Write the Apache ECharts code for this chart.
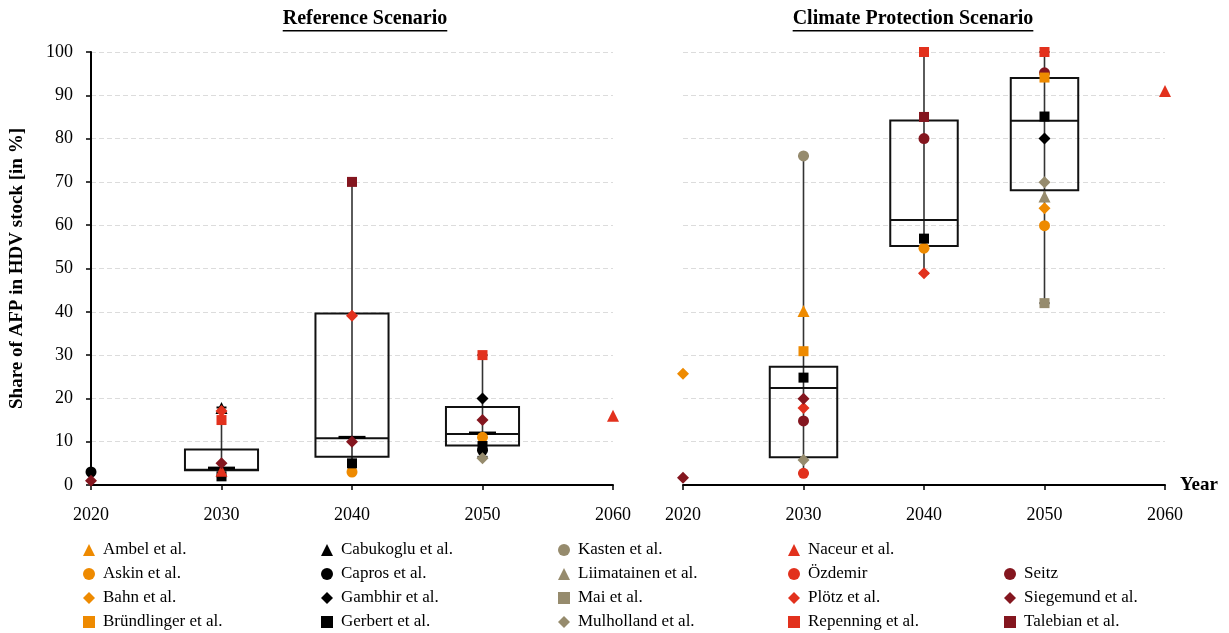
<!DOCTYPE html>
<html>
<head>
<meta charset="utf-8">
<script src="https://cdn.jsdelivr.net/npm/echarts@6/dist/echarts.min.js"></script>
<style>
html,body{margin:0;padding:0;background:#fff;}
#chart{width:1229px;height:633px;}
</style>
</head>
<body>
<div id="chart"></div>
<script>
// ---------- DATA ----------
const xTicks = [2020, 2030, 2040, 2050, 2060];
const studyNames = ['Ambel et al.','Askin et al.','Bahn et al.','Bründlinger et al.',
  'Cabukoglu et al.','Capros et al.','Gambhir et al.','Gerbert et al.',
  'Kasten et al.','Liimatainen et al.','Mai et al.','Mulholland et al.',
  'Naceur et al.','Özdemir','Plötz et al.','Repenning et al.',
  'Seitz','Siegemund et al.','Talebian et al.'];

// [study, year, share %] – Reference Scenario
const refObs = [
  ['Capros et al.',2020,3.0],['Siegemund et al.',2020,1.0],
  ['Cabukoglu et al.',2030,17.8],['Plötz et al.',2030,17.1],['Repenning et al.',2030,15.0],
  ['Siegemund et al.',2030,5.0],['Naceur et al.',2030,3.3],['Gerbert et al.',2030,2.0],
  ['Talebian et al.',2040,70.0],['Plötz et al.',2040,39.1],['Siegemund et al.',2040,10.0],
  ['Gerbert et al.',2040,5.0],['Askin et al.',2040,3.0],
  ['Repenning et al.',2050,30.0],['Gambhir et al.',2050,20.0],['Siegemund et al.',2050,15.0],
  ['Askin et al.',2050,11.0],['Gerbert et al.',2050,9.0],['Capros et al.',2050,8.0],
  ['Mulholland et al.',2050,6.2],
  ['Naceur et al.',2060,16.0]
];
// [study, year, share %] – Climate Protection Scenario
const cpObs = [
  ['Bahn et al.',2020,25.7],['Siegemund et al.',2020,1.7],
  ['Kasten et al.',2030,76.0],['Ambel et al.',2030,40.2],['Bründlinger et al.',2030,30.9],
  ['Gerbert et al.',2030,24.8],['Siegemund et al.',2030,19.9],['Plötz et al.',2030,17.8],
  ['Seitz',2030,14.8],['Mulholland et al.',2030,5.8],['Özdemir',2030,2.7],
  ['Repenning et al.',2040,100],['Talebian et al.',2040,85.0],['Seitz',2040,80.0],
  ['Gerbert et al.',2040,56.9],['Askin et al.',2040,54.7],['Plötz et al.',2040,48.9],
  ['Repenning et al.',2050,100],['Seitz',2050,95.2],['Bründlinger et al.',2050,94.1],
  ['Gerbert et al.',2050,85.1],['Gambhir et al.',2050,80.0],['Mulholland et al.',2050,69.9],
  ['Liimatainen et al.',2050,66.6],['Bahn et al.',2050,63.9],['Askin et al.',2050,59.9],
  ['Mai et al.',2050,42.0],
  ['Naceur et al.',2060,91.0]
];

// box statistics
const refBoxYears = [2030, 2040, 2050];
const refBoxMin = [2.0, 3.0, 6.5];
const refBoxQ1  = [3.4, 6.5, 9.1];
const refBoxMed = [3.5, 10.8, 11.8];
const refBoxQ3  = [8.2, 39.6, 18.0];
const refBoxMax = [17.9, 70.0, 30.0];
const refBoxBar = [3.9, 11.0, 12.0];

const cpBoxYears = [2030, 2040, 2050];
const cpBoxMin = [2.7, 48.9, 42.0];
const cpBoxQ1  = [6.4, 55.2, 68.1];
const cpBoxMed = [22.4, 61.2, 84.1];
const cpBoxQ3  = [27.3, 84.2, 94.0];
const cpBoxMax = [76.0, 100, 100];

const yTicks = [0,10,20,30,40,50,60,70,80,90,100];

// ---------- STYLE ----------
const ORANGE = '#EE8A00', BLACK = '#000000', GRAY = '#968B6D', RED = '#E2311D', DARK = '#84161F';
const studyColors = [ORANGE,ORANGE,ORANGE,ORANGE, BLACK,BLACK,BLACK,BLACK,
  GRAY,GRAY,GRAY,GRAY, RED,RED,RED,RED, DARK,DARK,DARK];
const studySymbols = ['triangle','circle','diamond','rect',
  'triangle','circle','diamond','rect',
  'circle','triangle','rect','diamond',
  'triangle','circle','diamond','rect',
  'circle','diamond','rect'];
const symSize = {triangle: 12, circle: 11, diamond: 12, rect: 10};
const FONT = 'Liberation Serif';

const chart = echarts.init(document.getElementById('chart'));

function boxItems(years, mn, q1, md, q3, mx, bar){
  return years.map((y,i)=>[y, mn[i], q1[i], md[i], q3[i], mx[i], bar ? bar[i] : NaN]);
}

function renderBox(params, api){
  const x = api.value(0);
  const pMin = api.coord([x, api.value(1)]);
  const pQ1 = api.coord([x, api.value(2)]);
  const pMed = api.coord([x, api.value(3)]);
  const pQ3 = api.coord([x, api.value(4)]);
  const pMax = api.coord([x, api.value(5)]);
  const w = api.size([5.6, 0])[0];
  const barW = api.size([2.07, 0])[0];
  const cx = pMed[0];
  const children = [
    {type:'line', shape:{x1:cx,y1:pMax[1],x2:cx,y2:pMin[1]}, style:{stroke:'#333',lineWidth:1.6}},
    {type:'line', shape:{x1:cx-5,y1:pMax[1],x2:cx+5,y2:pMax[1]}, style:{stroke:'#000',lineWidth:2}},
    {type:'line', shape:{x1:cx-5,y1:pMin[1],x2:cx+5,y2:pMin[1]}, style:{stroke:'#000',lineWidth:2}},
    {type:'rect', shape:{x:cx-w/2,y:pQ3[1],width:w,height:pQ1[1]-pQ3[1]}, style:{fill:'none',stroke:'#111',lineWidth:2}},
    {type:'line', shape:{x1:cx-w/2,y1:pMed[1],x2:cx+w/2,y2:pMed[1]}, style:{stroke:'#111',lineWidth:2}}
  ];
  const b = api.value(6);
  if (!isNaN(b)) {
    const pB = api.coord([x, b]);
    children.push({type:'line', shape:{x1:cx-barW/2,y1:pB[1],x2:cx+barW/2,y2:pB[1]}, style:{stroke:'#000',lineWidth:3}});
  }
  return {type:'group', children};
}

const series = [
  {type:'custom', xAxisIndex:0, yAxisIndex:0, z:1, silent:true, renderItem:renderBox,
   encode:{x:0, y:[1,2,3,4,5]},
   data: boxItems(refBoxYears, refBoxMin, refBoxQ1, refBoxMed, refBoxQ3, refBoxMax, refBoxBar)},
  {type:'custom', xAxisIndex:1, yAxisIndex:1, z:1, silent:true, renderItem:renderBox,
   encode:{x:0, y:[1,2,3,4,5]},
   data: boxItems(cpBoxYears, cpBoxMin, cpBoxQ1, cpBoxMed, cpBoxQ3, cpBoxMax, null)}
];
studyNames.forEach((name, i) => {
  const sym = studySymbols[i];
  [[refObs,0],[cpObs,1]].forEach(([obs, ax]) => {
    series.push({
      type:'scatter', name, xAxisIndex:ax, yAxisIndex:ax, z: name === 'Seitz' ? 3 : 5,
      symbol: sym, symbolSize: symSize[sym],
      itemStyle:{color: studyColors[i], opacity:1},
      emphasis:{disabled:true},
      data: obs.filter(o=>o[0]===name).map(o=>[o[1], o[2]])
    });
  });
});

const legendCols = [[0,4,78,533],[4,8,316,533],[8,12,553,533],[12,16,783,533],[16,19,999,557]];
const legends = legendCols.map(([a,b,l,t]) => ({
  orient:'vertical', left:l, top:t, height:110, itemGap:0, itemWidth:12, itemHeight:12,
  selectedMode:false,
  data: studyNames.slice(a,b),
  textStyle:{fontFamily:FONT, fontSize:17, color:'#000', lineHeight:24, padding:[0,0,0,3]}
}));

const xAxisCommon = {
  type:'value', min:2020, max:2060, interval:10,
  axisLine:{show:true, onZero:false, lineStyle:{color:'#000', width:2}},
  axisTick:{show:true, length:5, lineStyle:{color:'#000', width:1.5}},
  axisLabel:{fontFamily:FONT, fontSize:18, color:'#000', margin:21, formatter: v => String(v)},
  splitLine:{show:false}
};
const yAxisCommon = {
  type:'value', min:0, max:100, interval:10,
  splitLine:{show:true, lineStyle:{color:'#dcdcdc', type:[5,3], width:1}}
};

chart.setOption({
  animation:false,
  backgroundColor:'#fff',
  grid:[
    {left:91, top:52, width:522, height:433},
    {left:683, top:52, width:482, height:433}
  ],
  legend: legends,
  xAxis:[
    Object.assign({gridIndex:0}, xAxisCommon),
    Object.assign({gridIndex:1, name:'Year', nameLocation:'end', nameGap:15,
      nameTextStyle:{fontFamily:FONT, fontSize:19, fontWeight:'bold', color:'#000', verticalAlign:'middle'}}, xAxisCommon)
  ],
  yAxis:[
    Object.assign({gridIndex:0,
      name:'Share of AFP in HDV stock [in %]', nameLocation:'middle', nameGap:64, nameRotate:90,
      nameTextStyle:{fontFamily:FONT, fontSize:19, fontWeight:'bold', color:'#000'},
      axisLine:{show:true, lineStyle:{color:'#000', width:2}},
      axisTick:{show:true, length:5, lineStyle:{color:'#000', width:1.5}},
      axisLabel:{fontFamily:FONT, fontSize:18, color:'#000', margin:18}}, yAxisCommon),
    Object.assign({gridIndex:1,
      axisLine:{show:false}, axisTick:{show:false}, axisLabel:{show:false}}, yAxisCommon)
  ],
  series
});

// titles with underline
const titles = [['Reference Scenario', 365], ['Climate Protection Scenario', 913]];
const TFONT = 'bold 20px "' + FONT + '"';
const ctx = document.createElement('canvas').getContext('2d');
ctx.font = TFONT;
const graphics = [];
titles.forEach(([txt, cx]) => {
  const w = ctx.measureText(txt).width;
  graphics.push({type:'text', left: cx - w/2, top: 9,
    style:{text: txt, font: TFONT, fill:'#000'}});
  graphics.push({type:'rect', left: cx - w/2, top: 30,
    shape:{width: w, height: 1.4}, style:{fill:'#000'}});
});
chart.setOption({graphic: graphics});
</script>
</body>
</html>
